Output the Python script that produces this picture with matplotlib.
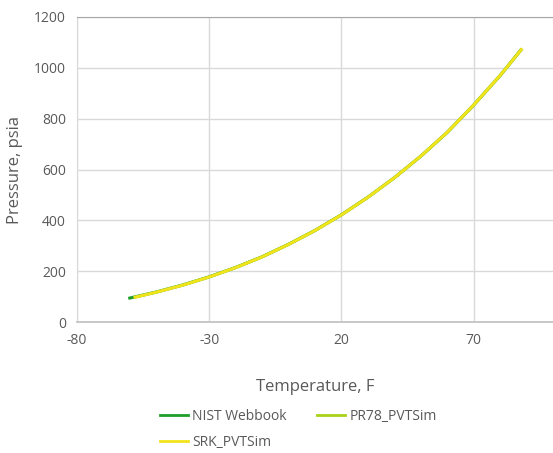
import numpy as np
import matplotlib
matplotlib.use("Agg")
import matplotlib.pyplot as plt

plt.rcParams["font.family"] = ["Open Sans", "DejaVu Sans"]
plt.rcParams["axes.unicode_minus"] = False

# CO2 saturation pressure, temperature in F, pressure in psia
T_NIST = [-60, -50, -40, -30, -20, -10, 0, 10, 20, 30, 40, 50, 60, 70, 80, 87.8]
P_NIST = [94.5, 118.2, 145.8, 177.8, 214.6, 256.6, 305.8, 360.2, 421.9, 490.8,
          567.3, 652.1, 745.8, 853.4, 969.3, 1070.0]

T_PR78 = [-58, -50, -40, -30, -20, -10, 0, 10, 20, 30, 40, 50, 60, 70, 80, 88]
P_PR78 = [98.0, 117.6, 145.3, 177.4, 214.3, 256.4, 305.6, 360.1, 421.8, 490.9,
          567.6, 652.6, 746.5, 853.9, 970.0, 1071.0]

T_SRK = [-58, -50, -40, -30, -20, -10, 0, 10, 20, 30, 40, 50, 60, 70, 80, 88]
P_SRK = [97.6, 117.4, 145.0, 177.1, 214.0, 256.1, 305.3, 359.8, 421.5, 490.5,
         567.2, 652.3, 746.2, 853.6, 969.8, 1072.0]

X_TICKS = [-80, -30, 20, 70]
Y_TICKS = [0, 200, 400, 600, 800, 1000, 1200]

fig = plt.figure(figsize=(5.53, 4.53), dpi=100)
ax = fig.add_axes([0.139, 0.289, 0.861, 0.6735])

l_nist, = ax.plot(T_NIST, P_NIST, color="#1f9e2a", lw=2.2, label="NIST Webbook")
l_pr, = ax.plot(T_PR78, P_PR78, color="#a8d21a", lw=2.2, label="PR78_PVTSim")
l_srk, = ax.plot(T_SRK, P_SRK, color="#f2e41c", lw=2.0, label="SRK_PVTSim")

ax.set_xlim(-80, 100)
ax.set_ylim(0, 1200)
ax.set_xticks(X_TICKS)
ax.set_yticks(Y_TICKS)
ax.tick_params(length=0, labelsize=10, colors="#595959", pad=8)
ax.grid(True, color="#d9d9d9", lw=1)
ax.set_axisbelow(True)
ax.spines["right"].set_visible(False)
ax.spines["top"].set_color("#a6a6a6")
ax.spines["left"].set_color("#d9d9d9")
ax.spines["bottom"].set_color("#bfbfbf")
ax.spines["bottom"].set_linewidth(1.2)

ax.set_xlabel("Temperature, F", fontsize=12, color="#595959", labelpad=22)
ax.set_ylabel("Pressure, psia", fontsize=12, color="#595959", labelpad=8)

# legend filled row by row: NIST, PR78 on first row, SRK below
leg = fig.legend([l_nist, l_srk, l_pr],
                 ["NIST Webbook", "SRK_PVTSim", "PR78_PVTSim"],
                 loc="upper left", bbox_to_anchor=(0.28, 0.11), ncol=2,
                 frameon=False, fontsize=10, labelcolor="#595959", handlelength=2.0,
                 handletextpad=0.3, columnspacing=2.2, borderaxespad=0, labelspacing=0.8)
for line in leg.get_lines():
    line.set_linewidth(2.0)

fig.savefig("out.png", dpi=100)
